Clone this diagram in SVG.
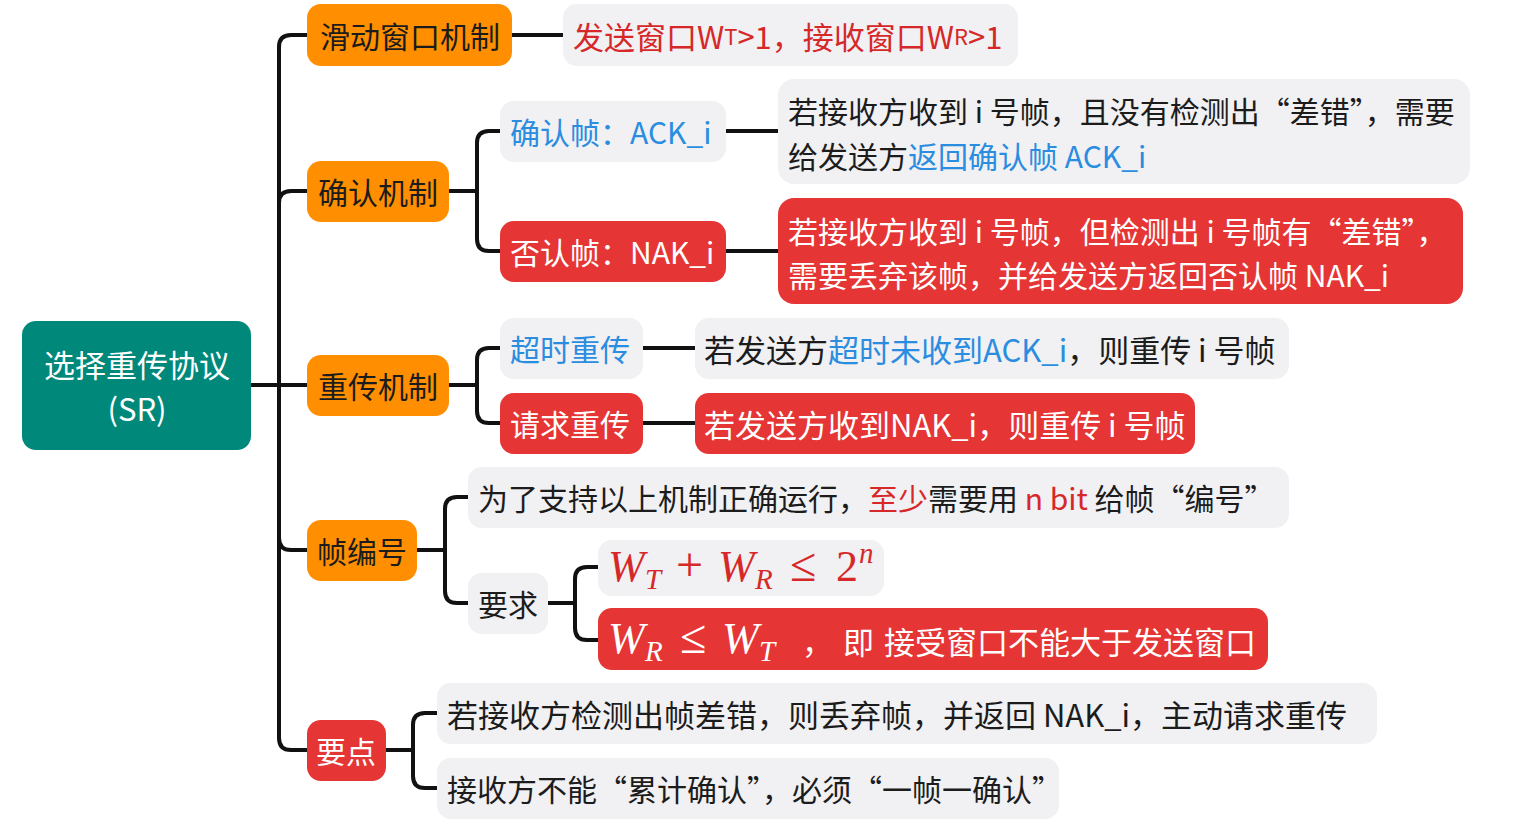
<svg xmlns="http://www.w3.org/2000/svg" width="1521" height="834" viewBox="0 0 1521 834">
<style>
text{font-family:"Noto Sans CJK SC","Noto Sans",sans-serif;font-size:30px;dominant-baseline:central;fill:#1c1c1c}
.l{font-size:31px}
.root{fill:#00897b}
.org{fill:#ff8f00}
.red{fill:#e53535}
.gray{fill:#f1f0f3}
.w{fill:#ffffff}
.b{fill:#2a8de0}
.r{fill:#d62828}
.c{text-anchor:middle}
.conn path{fill:none;stroke:#111;stroke-width:4;stroke-linecap:round}
text.m{font-family:"Liberation Serif","DejaVu Serif",serif;dominant-baseline:alphabetic;font-size:44px}
.m .i{font-style:italic}
.m .s{font-size:29px;font-style:italic}
.m .o{font-size:48px}
</style>
<rect width="1521" height="834" fill="#ffffff"/>
<g id="connectors" class="conn">
<path d="M251 385 H307"/>
<path d="M307 35 H291 Q279 35 279 47 V738 Q279 750 291 750 H307"/>
<path d="M279 203 Q279 191 291 191 H307"/>
<path d="M279 538 Q279 550 291 550 H307"/>
<path d="M512 35 H563"/>
<path d="M449 191 H477"/>
<path d="M500 131 H489 Q477 131 477 143 V239 Q477 251 489 251 H500"/>
<path d="M726 131 H778"/>
<path d="M726 251 H778"/>
<path d="M449 385 H477"/>
<path d="M500 348 H489 Q477 348 477 360 V411 Q477 423 489 423 H500"/>
<path d="M643 348 H695"/>
<path d="M643 423 H695"/>
<path d="M417 550 H445"/>
<path d="M468 497 H457 Q445 497 445 509 V591 Q445 603 457 603 H468"/>
<path d="M548 603 H575"/>
<path d="M598 567 H587 Q575 567 575 579 V628 Q575 640 587 640 H598"/>
<path d="M386 750 H413"/>
<path d="M437 713 H425 Q413 713 413 725 V776 Q413 788 425 788 H437"/>
</g>
<g id="root">
<rect class="root" x="22" y="321" width="229" height="129" rx="14"/>
<text class="w c l" x="137" y="363">选择重传协议</text>
<text class="w c l" x="137" y="407">(SR)</text>
</g>
<g id="n-sliding">
<rect class="org" x="307" y="4" width="205" height="62" rx="14"/>
<text class="c" x="410" y="35">滑动窗口机制</text>
</g>
<g id="n-sliding-desc">
<rect class="gray" x="563" y="4" width="455" height="62" rx="14"/>
<text class="r l" x="573" y="35">发送窗口W<tspan font-size="22">T</tspan>&gt;1，接收窗口W<tspan font-size="22">R</tspan>&gt;1</text>
</g>
<g id="n-ack-mech">
<rect class="org" x="307" y="161" width="142" height="61" rx="14"/>
<text class="c" x="378" y="191">确认机制</text>
</g>
<g id="n-ack">
<rect class="gray" x="500" y="101" width="226" height="61" rx="14"/>
<text class="b" x="510" y="131">确认帧：ACK_i</text>
</g>
<g id="n-ack-desc">
<rect class="gray" x="778" y="79" width="692" height="105" rx="16"/>
<text x="788" y="110">若接收方收到 i 号帧，且没有检测出“差错”，需要</text>
<text x="788" y="155">给发送方<tspan class="b">返回确认帧 ACK_i</tspan></text>
</g>
<g id="n-nak">
<rect class="red" x="500" y="221" width="226" height="61" rx="14"/>
<text class="w" x="510" y="251">否认帧：NAK_i</text>
</g>
<g id="n-nak-desc">
<rect class="red" x="778" y="198" width="685" height="106" rx="16"/>
<text class="w" x="788" y="230">若接收方收到 i 号帧，但检测出 i 号帧有“差错”，</text>
<text class="w" x="788" y="274">需要丢弃该帧，并给发送方返回否认帧 NAK_i</text>
</g>
<g id="n-retx-mech">
<rect class="org" x="307" y="355" width="142" height="61" rx="14"/>
<text class="c" x="378" y="385">重传机制</text>
</g>
<g id="n-timeout">
<rect class="gray" x="500" y="318" width="143" height="61" rx="14"/>
<text class="b" x="510" y="348">超时重传</text>
</g>
<g id="n-timeout-desc">
<rect class="gray" x="695" y="318" width="594" height="61" rx="14"/>
<text class="l" x="704" y="348">若发送方<tspan class="b">超时未收到ACK_i</tspan>，则重传 i 号帧</text>
</g>
<g id="n-request">
<rect class="red" x="500" y="393" width="143" height="61" rx="14"/>
<text class="w" x="510" y="423">请求重传</text>
</g>
<g id="n-request-desc">
<rect class="red" x="695" y="393" width="500" height="61" rx="14"/>
<text class="w l" x="704" y="423">若发送方收到NAK_i，则重传 i 号帧</text>
</g>
<g id="n-seq">
<rect class="org" x="307" y="520" width="110" height="61" rx="14"/>
<text class="c" x="362" y="550">帧编号</text>
</g>
<g id="n-seq-desc">
<rect class="gray" x="468" y="467" width="821" height="61" rx="14"/>
<text x="478" y="497">为了支持以上机制正确运行，<tspan class="r">至少</tspan>需要用 <tspan class="r">n bit</tspan> 给帧“编号”</text>
</g>
<g id="n-req">
<rect class="gray" x="468" y="573" width="80" height="61" rx="14"/>
<text x="478" y="603">要求</text>
</g>
<g id="n-formula1">
<rect class="gray" x="598" y="540" width="286" height="56" rx="14"/>
<text class="m r" y="581"><tspan class="i" x="608">W</tspan><tspan class="s" x="645" dy="8">T</tspan><tspan class="o" x="676" dy="-8">+</tspan><tspan class="i" x="718">W</tspan><tspan class="s" x="755" dy="8">R</tspan><tspan class="o" x="790" dy="-8">≤</tspan><tspan x="836">2</tspan><tspan class="s" x="859" dy="-18">n</tspan></text>
</g>
<g id="n-formula2">
<rect class="red" x="598" y="608" width="670" height="62" rx="14"/>
<text class="m w" y="653"><tspan class="i" x="608">W</tspan><tspan class="s" x="645" dy="8">R</tspan><tspan class="o" x="680" dy="-8">≤</tspan><tspan class="i" x="722">W</tspan><tspan class="s" x="759" dy="8">T</tspan></text>
<text class="w l" y="640"><tspan x="802">，</tspan><tspan x="843">即</tspan><tspan x="884">接受窗口不能大于发送窗口</tspan></text>
</g>
<g id="n-key">
<rect class="red" x="307" y="720" width="79" height="61" rx="14"/>
<text class="w c" x="346" y="750">要点</text>
</g>
<g id="n-key-1">
<rect class="gray" x="437" y="683" width="940" height="61" rx="14"/>
<text class="l" x="447" y="713">若接收方检测出帧差错，则丢弃帧，并返回 NAK_i，主动请求重传</text>
</g>
<g id="n-key-2">
<rect class="gray" x="437" y="758" width="622" height="61" rx="14"/>
<text x="447" y="788">接收方不能“累计确认”，必须“一帧一确认”</text>
</g>
</svg>
